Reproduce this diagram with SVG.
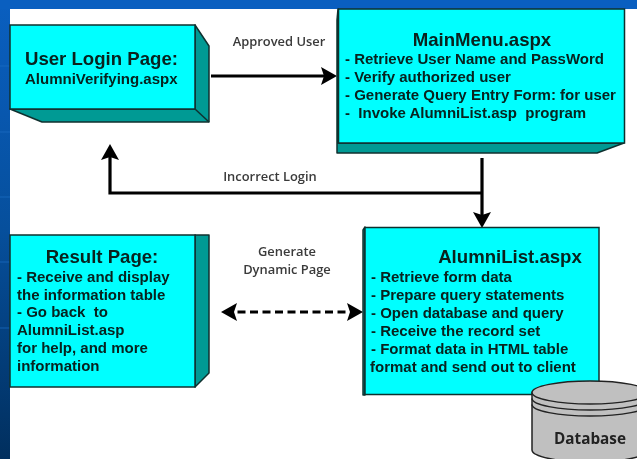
<svg xmlns="http://www.w3.org/2000/svg" width="637" height="459" viewBox="0 0 637 459">
<defs>
<linearGradient id="bg" x1="0" y1="0" x2="0" y2="1"><stop offset="0" stop-color="#0a5fc0"/><stop offset="0.5" stop-color="#064f9c"/><stop offset="1" stop-color="#012f5e"/></linearGradient>
<filter id="soft" x="-5%" y="-5%" width="110%" height="110%"><feGaussianBlur stdDeviation="0.45"/></filter>
<marker id="head" markerUnits="userSpaceOnUse" markerWidth="17" markerHeight="20" refX="12" refY="10" orient="auto"><path d="M0,1 L16,10 L0,19 L3,10 Z" fill="#000"/></marker>
<marker id="headStart" markerUnits="userSpaceOnUse" markerWidth="17" markerHeight="20" refX="5" refY="10" orient="auto"><path d="M17,1 L1,10 L17,19 L14,10 Z" fill="#000"/></marker>
</defs>
<style>
.front{fill:#00ffff;stroke:#10302f;stroke-width:1.5}
.side{fill:#009a94;stroke:#10302f;stroke-width:1.5;stroke-linejoin:round}
.conn{fill:none;stroke:#000;stroke-width:3.2}
text{font-family:"Liberation Sans",Arial,sans-serif;font-weight:bold;fill:#07201f}
.t{font-size:18.6px}
.b{font-size:15px}
.lab{font-size:12.900px;fill:#3a3a3a;font-family:"Open Sans","Liberation Sans",sans-serif;font-weight:600}
.cyl{fill:#c0c0c0;stroke:#222;stroke-width:1.5}
.band{stroke:#1d6fc4;stroke-width:1;opacity:.7}
</style>
<rect width="637" height="459" fill="#fff"/>
<rect x="0" y="0" width="10" height="459" fill="url(#bg)"/>
<rect x="0" y="0" width="637" height="9" fill="#0a5fc0"/>
<path class="band" d="M0,66 H10 M0,132 H10 M0,197 H10 M0,262 H10 M0,328 H10"/>
<g filter="url(#soft)">
<g id="connectors">
<path class="conn" d="M211,76 H333" marker-end="url(#head)"/>
<path class="conn" d="M482,158 V224" marker-end="url(#head)"/>
<path class="conn" d="M482,193 H110 V148" marker-end="url(#head)"/>
<path class="conn" stroke-dasharray="8 4.5" d="M225,312 H359" marker-start="url(#headStart)" marker-end="url(#head)"/>
<text class="lab" x="279" y="46" text-anchor="middle">Approved User</text>
<text class="lab" x="270" y="181" text-anchor="middle">Incorrect Login</text>
<text class="lab" x="287" y="256" text-anchor="middle">Generate</text>
<text class="lab" x="287" y="274" text-anchor="middle">Dynamic Page</text>
</g>
<g id="user-login">
<path class="side" d="M195,25 L209,46 V122 H42 L10,109 H195 Z"/>
<path class="side" d="M195,109 L209,122"/>
<rect class="front" x="10" y="25" width="185" height="84"/>
<text class="t" x="25" y="65">User Login Page:</text>
<text class="b" x="25" y="84">AlumniVerifying.aspx</text>
</g>
<g id="main-menu">
<path class="side" d="M338,9 L337,20 V153 H597 L624,143 H338 Z"/>
<rect class="front" x="338.500" y="9" width="286" height="134"/>
<text class="t" x="482" y="46" text-anchor="middle">MainMenu.aspx</text>
<text class="b" x="345" y="64">- Retrieve User Name and PassWord</text>
<text class="b" x="345" y="82">- Verify authorized user</text>
<text class="b" x="345" y="100">- Generate Query Entry Form: for user</text>
<text class="b" x="345" y="118" xml:space="preserve">-  Invoke AlumniList.asp  program</text>
</g>
<g id="result-page">
<path class="side" d="M195,235 H209 V373 L195,387 Z"/>
<rect class="front" x="10" y="235" width="185" height="152"/>
<text class="t" x="102" y="263" text-anchor="middle">Result Page:</text>
<text class="b" x="17" y="282">- Receive and display</text>
<text class="b" x="17" y="300">the information table</text>
<text class="b" x="17" y="317" xml:space="preserve">- Go back  to</text>
<text class="b" x="17" y="335">AlumniList.asp</text>
<text class="b" x="17" y="353">for help, and more</text>
<text class="b" x="17" y="371">information</text>
</g>
<g id="alumni-list">
<path class="side" d="M365,227 L363,230 V395 H365 Z"/>
<rect class="front" x="365" y="227.500" width="234" height="167"/>
<text class="t" x="510" y="263" text-anchor="middle">AlumniList.aspx</text>
<text class="b" x="371" y="282">- Retrieve form data</text>
<text class="b" x="371" y="300">- Prepare query statements</text>
<text class="b" x="371" y="318">- Open database and query</text>
<text class="b" x="371" y="336">- Receive the record set</text>
<text class="b" x="371" y="354">- Format data in HTML table</text>
<text class="b" x="370" y="372">format and send out to client</text>
</g>
<g id="database">
<path class="cyl" d="M532,392.500 V450 A58,12 0 0 0 648,450 V392.500 Z"/>
<path d="M532,398.500 A58,11.500 0 0 0 648,398.500 M532,404.500 A58,11.500 0 0 0 648,404.500" fill="none" stroke="#222" stroke-width="1.5"/>
<ellipse class="cyl" cx="590" cy="392.500" rx="58" ry="11.500"/>
<text x="590" y="444" text-anchor="middle" style="font-size:15.300px;fill:#222;font-family:'Open Sans','Liberation Sans',sans-serif">Database</text>
</g>
</g>
</svg>
